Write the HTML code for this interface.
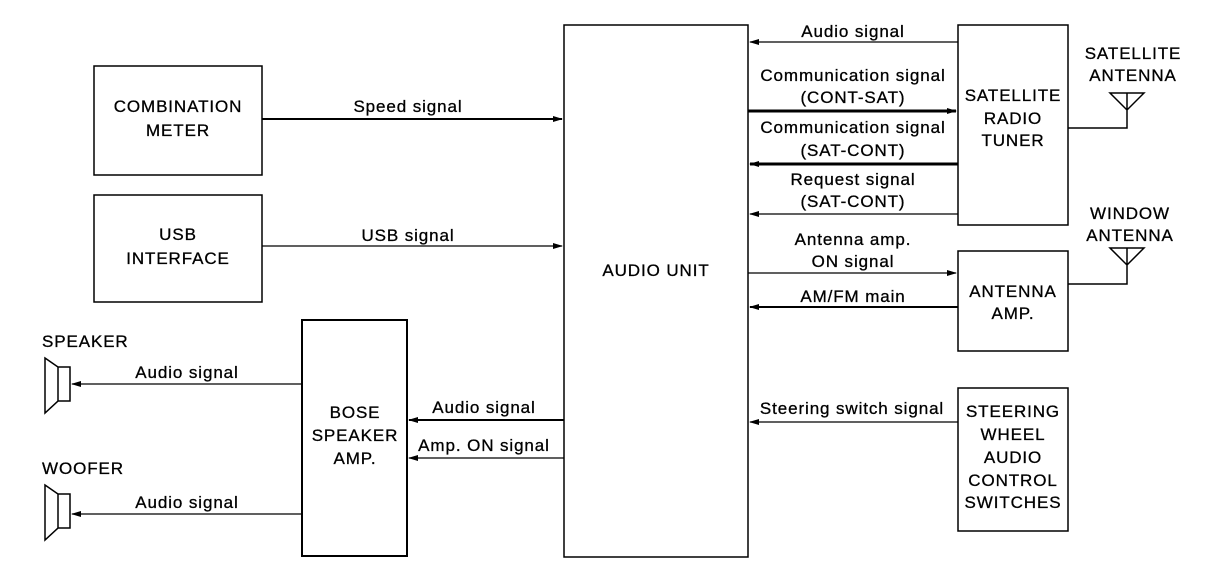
<!DOCTYPE html><html><head><style>body{margin:0;background:#fff}svg text{font-family:"Liberation Sans",sans-serif;font-size:17px;letter-spacing:0.9px;fill:#000;stroke:#000;stroke-width:0.3}</style></head><body>
<svg width="1216" height="582" xmlns="http://www.w3.org/2000/svg">
<defs><marker id="a" markerWidth="10" markerHeight="6" refX="9" refY="3" orient="auto" markerUnits="userSpaceOnUse"><path d="M0,0L10,3L0,6z"/></marker></defs>
<g fill="none" stroke="#000" stroke-width="1.5">
<rect x="564" y="25" width="184" height="532"/>
<rect x="94" y="66" width="168" height="109"/>
<rect x="94" y="195" width="168" height="107"/>
<rect x="302" y="320" width="105" height="236" stroke-width="2"/>
<rect x="958" y="25" width="110" height="200"/>
<rect x="958" y="251" width="110" height="100"/>
<rect x="958" y="388" width="110" height="143"/>
<path d="M45,358L58,367V401L45,413Z M58,367H70V401H58"/>
<path d="M45,485L58,494V528L45,540Z M58,494H70V528H58"/>
<path d="M1110,93H1144L1127,110Z M1127,93V128H1068"/>
<path d="M1110,248H1144L1127,265Z M1127,248V284H1068"/>
</g>
<g stroke="#000" stroke-width="1.2" marker-end="url(#a)">
<line x1="958" y1="42" x2="750" y2="42"/>
<line x1="748" y1="111" x2="956" y2="111" stroke-width="3"/>
<line x1="958" y1="164" x2="750" y2="164" stroke-width="3"/>
<line x1="958" y1="214" x2="750" y2="214"/>
<line x1="748" y1="273" x2="956" y2="273"/>
<line x1="958" y1="307" x2="750" y2="307" stroke-width="2"/>
<line x1="958" y1="422" x2="750" y2="422"/>
<line x1="262" y1="119" x2="562" y2="119" stroke-width="2"/>
<line x1="262" y1="246" x2="562" y2="246"/>
<line x1="564" y1="420" x2="409" y2="420" stroke-width="2"/>
<line x1="564" y1="458" x2="409" y2="458"/>
<line x1="302" y1="384" x2="72" y2="384"/>
<line x1="302" y1="514" x2="72" y2="514"/>
</g>
<g text-anchor="middle">
<text x="853" y="37">Audio signal</text>
<text x="853" y="81">Communication signal</text>
<text x="853" y="103">(CONT-SAT)</text>
<text x="853" y="133">Communication signal</text>
<text x="853" y="156">(SAT-CONT)</text>
<text x="853" y="185">Request signal</text>
<text x="853" y="207">(SAT-CONT)</text>
<text x="853" y="245">Antenna amp.</text>
<text x="853" y="267">ON signal</text>
<text x="853" y="302">AM/FM main</text>
<text x="852" y="414">Steering switch signal</text>
<text x="408" y="112">Speed signal</text>
<text x="408" y="241">USB signal</text>
<text x="484" y="413">Audio signal</text>
<text x="484" y="451">Amp. ON signal</text>
<text x="187" y="378">Audio signal</text>
<text x="187" y="508">Audio signal</text>
<text x="656" y="276">AUDIO UNIT</text>
<text x="178" y="112">COMBINATION</text>
<text x="178" y="136">METER</text>
<text x="178" y="240">USB</text>
<text x="178" y="264">INTERFACE</text>
<text x="355" y="418">BOSE</text>
<text x="355" y="441">SPEAKER</text>
<text x="355" y="464">AMP.</text>
<text x="1013" y="101">SATELLITE</text>
<text x="1013" y="124">RADIO</text>
<text x="1013" y="146">TUNER</text>
<text x="1013" y="297">ANTENNA</text>
<text x="1013" y="319">AMP.</text>
<text x="1013" y="417">STEERING</text>
<text x="1013" y="440">WHEEL</text>
<text x="1013" y="463">AUDIO</text>
<text x="1013" y="486">CONTROL</text>
<text x="1013" y="508">SWITCHES</text>
<text x="1133" y="59">SATELLITE</text>
<text x="1133" y="81">ANTENNA</text>
<text x="1130" y="219">WINDOW</text>
<text x="1130" y="241">ANTENNA</text>
</g>
<text x="42" y="347">SPEAKER</text>
<text x="42" y="474">WOOFER</text>
</svg></body></html>
